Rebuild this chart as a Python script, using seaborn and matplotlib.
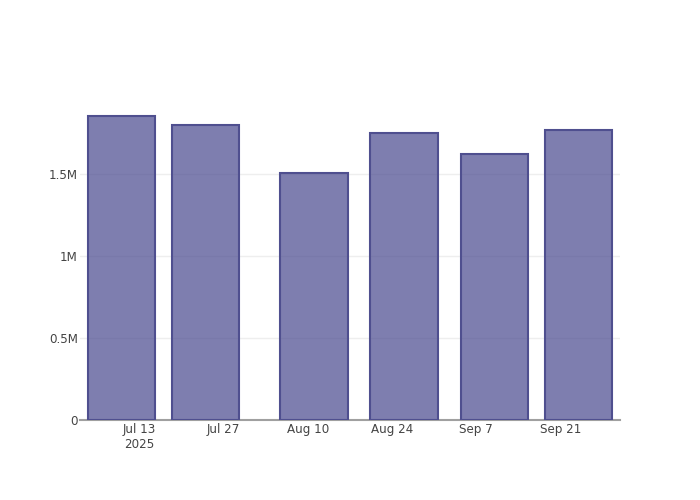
import pandas as pd
import matplotlib
matplotlib.use("Agg")
import matplotlib.pyplot as plt
import matplotlib.dates as mdates
import seaborn as sns

# Data
dates = ["2025-07-10", "2025-07-24", "2025-08-11", "2025-08-26", "2025-09-10", "2025-09-24"]
values = [1854000, 1799000, 1506000, 1750000, 1622000, 1768000]
tick_dates = ["2025-07-13", "2025-07-27", "2025-08-10", "2025-08-24", "2025-09-07", "2025-09-21"]
tick_labels = ["Jul 13\n2025", "Jul 27", "Aug 10", "Aug 24", "Sep 7", "Sep 21"]
y_ticks = [0, 500000, 1000000, 1500000]
y_labels = ["0", "0.5M", "1M", "1.5M"]

df = pd.DataFrame({"date": pd.to_datetime(dates), "value": values})
df["num"] = mdates.date2num(df["date"])

sns.set_style("white")
plt.rcParams["font.family"] = ["DejaVu Sans"]

fig = plt.figure(figsize=(7, 5), dpi=100)
ax = fig.add_axes([80 / 700, 80 / 500, 540 / 700, 320 / 500])

sns.barplot(data=df, x="num", y="value", native_scale=True, width=0.8,
            color="#7f7fb0", saturation=1, edgecolor="#4f4f8f", linewidth=1.5,
            ax=ax, zorder=3)
# semi-transparent fill so the grid shows through, like the original
for p in ax.patches:
    p.set_facecolor((72 / 255, 72 / 255, 142 / 255, 0.7))

ax.set_xlim(df["num"].min() - 5.6 - 1.33, df["num"].max() + 5.6 + 1.33)
ax.set_ylim(0, 1951000)

ax.set_xticks(mdates.date2num(pd.to_datetime(tick_dates)))
ax.set_xticklabels(tick_labels)
ax.set_yticks(y_ticks)
ax.set_yticklabels(y_labels)
ax.tick_params(axis="both", length=0, labelsize=8.6, labelcolor="#444444")
ax.tick_params(axis="x", pad=2.5)
ax.tick_params(axis="y", pad=1.5)

ax.grid(axis="y", color="#eeeeee", linewidth=1, zorder=0)
for s in ["top", "right", "left"]:
    ax.spines[s].set_visible(False)
ax.spines["bottom"].set_color("#a0a0a0")
ax.spines["bottom"].set_linewidth(1.5)
ax.set_xlabel("")
ax.set_ylabel("")

fig.savefig("out.png", dpi=100)
